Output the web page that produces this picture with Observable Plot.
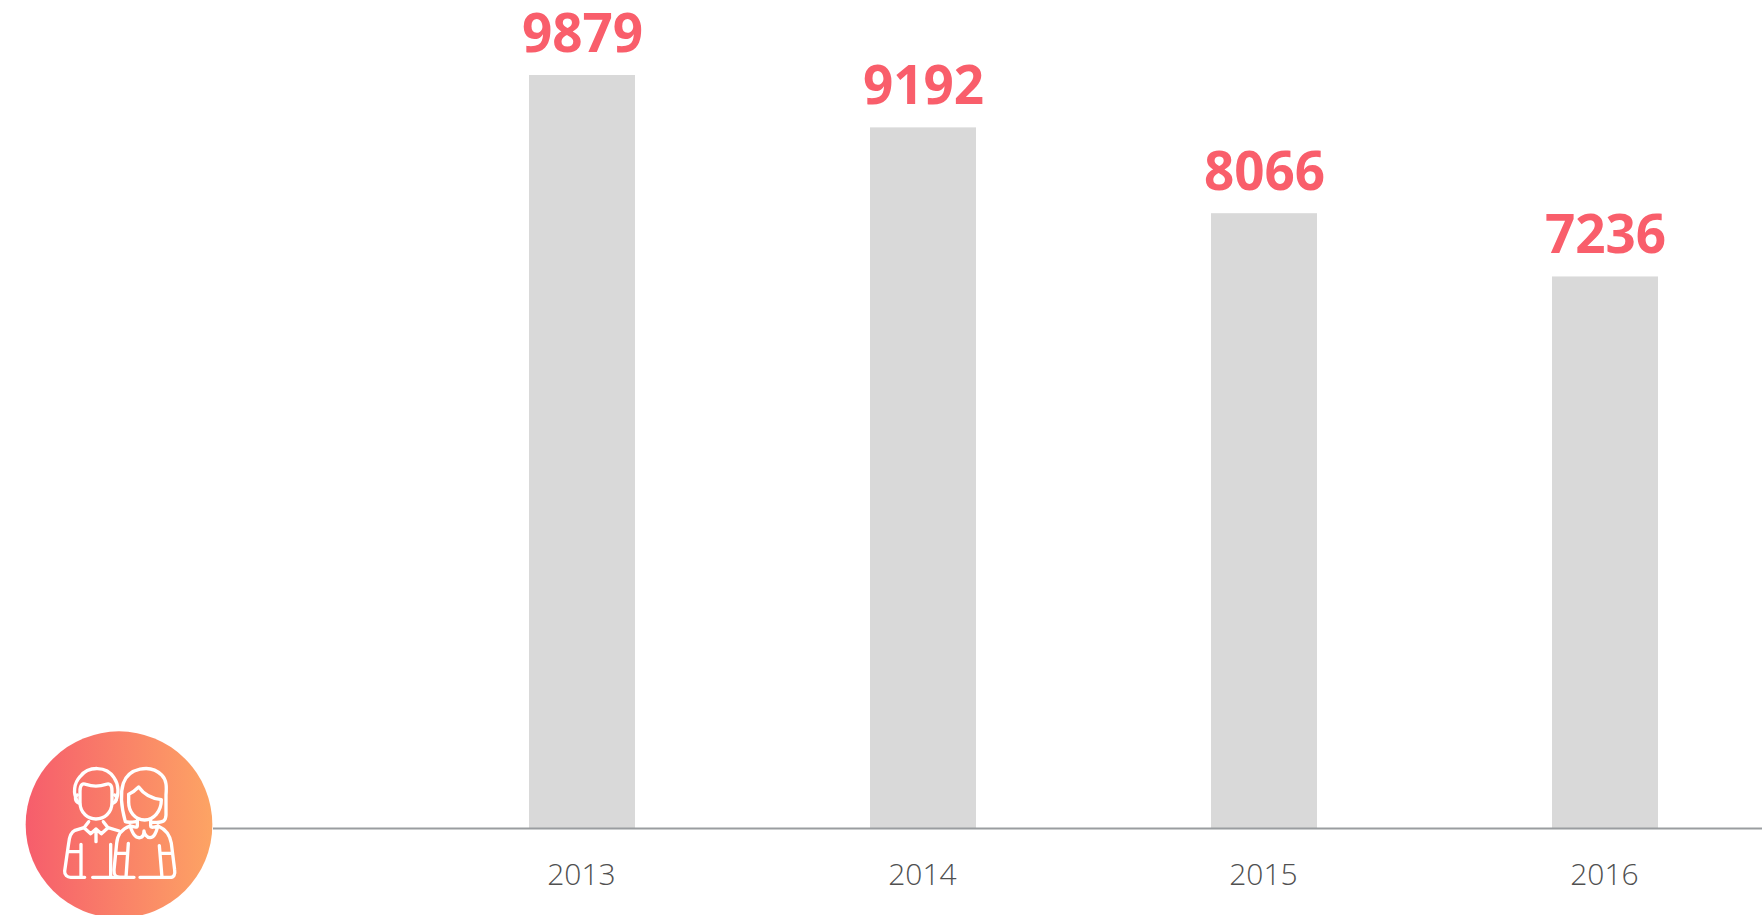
<!DOCTYPE html>
<html><head><meta charset="utf-8">
<script src="https://cdn.jsdelivr.net/npm/d3@7"></script>
<script src="https://cdn.jsdelivr.net/npm/@observablehq/plot@0.6"></script>
<style>
html,body{margin:0;padding:0;background:#fff;width:1762px;height:915px;overflow:hidden}
#chart{position:absolute;left:0;top:0}
#icon{position:absolute;left:0;top:715px}
</style></head><body>
<div id="chart"></div>
<svg id="icon" width="240" height="200" viewBox="0 0 720 600">
<defs><linearGradient id="g" x1="0" x2="1" y1="0" y2="0"><stop offset="0" stop-color="#f65d6c"/><stop offset="1" stop-color="#fda464"/></linearGradient></defs>
<circle cx="357" cy="329" r="280" fill="url(#g)"/>
<g fill="none" stroke="#fff" stroke-width="10" stroke-linecap="round" stroke-linejoin="round">
<path d="M232 258C218 235 222 205 240 185C265 152 320 152 342 188C356 208 358 238 346 258"/>
<path d="M240 228C240 208 248 204 258 208C275 214 300 214 318 208C330 204 336 210 336 228V262C336 295 312 312 288 312C265 312 240 295 240 262Z"/>
<path d="M232 240C224 244 224 258 236 264M344 240C352 244 352 258 340 264"/>
<path d="M266 320L252 338L272 356L288 342L304 356L324 338L310 320M288 342V380"/>
<path d="M252 338L225 346C212 352 208 365 206 385L194 468C193 480 202 487 212 487H254M243 388V487M278 487H402M332 388V487"/>
<path d="M324 338L358 348"/>
<path d="M205 410H240"/>
<path d="M376 320C362 270 362 230 370 205C385 160 450 145 485 180C500 195 500 215 498 240V300C497 318 490 322 470 322H452M376 320C384 323 395 322 408 320"/>
<path d="M386 238C400 232 410 222 416 216C430 236 450 250 484 254C484 290 460 315 434 315C405 315 386 290 386 262Z"/>
<path d="M412 316V332C412 340 400 335 390 333C398 355 405 370 420 368C430 366 432 355 432 348C432 355 440 368 450 368C465 368 470 345 474 333C465 336 452 340 452 332V316"/>
<path d="M390 333C365 342 352 360 350 385L342 465C342 480 345 487 360 487H375M385 385L378 487M420 487H510C522 487 526 478 524 465L514 385C510 360 495 342 474 333M478 392L486 487M348 415H382M482 415H516"/>
</g></svg>
<script>
const years = ["2013", "2014", "2015", "2016"];
const values = [9879, 9192, 8066, 7236];
const rows = years.map((year, i) => ({year, value: values[i]}));

const chart = Plot.plot({
  width: 1762, height: 915,
  marginTop: 0, marginBottom: 0, marginLeft: 0, marginRight: 0,
  style: {background: "transparent", overflow: "hidden"},
  x: {domain: years, range: [411.5, 1775.5], paddingInner: 0.689, paddingOuter: 0.3445, align: 0.5, axis: null},
  y: {domain: [0, 9879], range: [828, 75], axis: null},
  marks: [
    Plot.barY(rows, {x: "year", y: "value", fill: "#d9d9d9"}),
    Plot.ruleY([0], {stroke: "#9a9da0", strokeWidth: 2, insetLeft: 213}),
    Plot.text(rows, {x: "year", y: "value", text: d => String(d.value), fill: "#f95e6b",
      fontFamily: "Open Sans", fontWeight: 700, fontSize: 53, lineAnchor: "bottom", dy: -24}),
    Plot.text(rows, {x: "year", y: () => 0, text: "year", fill: "#505050",
      fontFamily: "Open Sans", fontWeight: 300, fontSize: 30, lineAnchor: "middle", dy: 47, dx: -1})
  ]
});
document.getElementById("chart").appendChild(chart);
</script>
</body></html>
